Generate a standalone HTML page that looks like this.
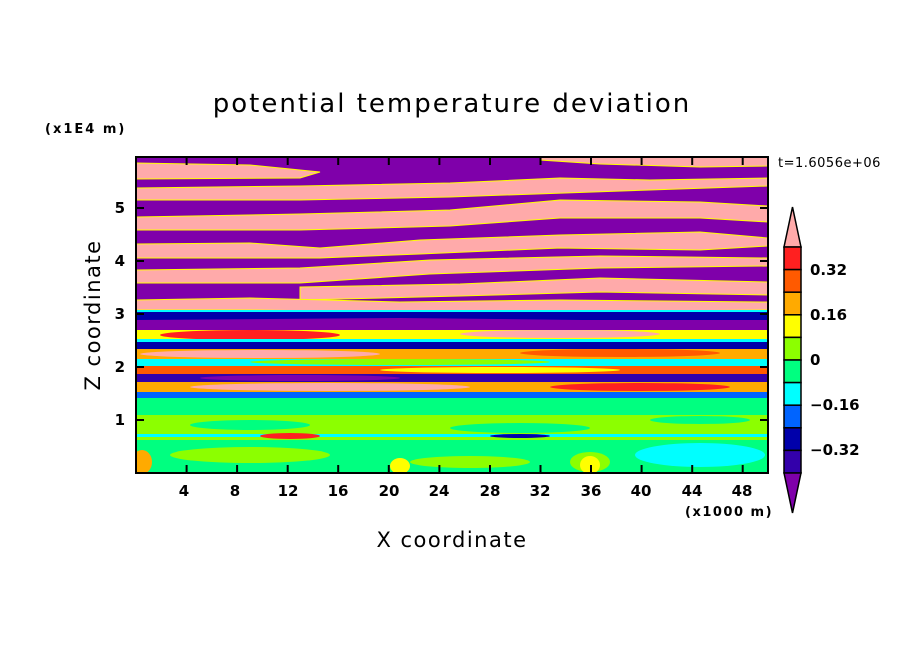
<!DOCTYPE html>
<html><head><meta charset="utf-8"><style>
body{margin:0;background:#fff}
svg{display:block}
text{font-family:"DejaVu Sans","Liberation Sans",sans-serif;fill:#000}
</style></head><body>
<svg width="904" height="654" viewBox="0 0 904 654" xmlns="http://www.w3.org/2000/svg">
<rect width="904" height="654" fill="#fff"/>
<defs><clipPath id="c"><rect x="136" y="157" width="632" height="316"/></clipPath></defs>
<g clip-path="url(#c)">
<rect x="136" y="157" width="632" height="316" fill="#7f00aa"/>
<g stroke="#ffff00" stroke-width="1" fill="#ffaaaa">
<polygon points="136,163 250,165 320,172 300,178 136,179"/>
<polygon points="540,157 768,157 768,166 700,167 600,164 540,160"/>
<polygon points="136,188 300,186 450,183 560,178 650,180 768,178 768,186 650,190 450,197 300,200 136,200"/>
<polygon points="136,217 300,214 450,210 560,200 700,202 768,206 768,222 700,218 560,218 450,226 300,230 136,230"/>
<polygon points="136,244 250,243 320,248 420,240 560,235 700,232 768,238 768,246 700,250 560,248 420,254 320,258 136,258"/>
<polygon points="136,270 300,268 430,260 600,256 768,258 768,266 600,268 430,274 300,283 136,283"/>
<polygon points="300,287 460,284 600,278 768,282 768,295 600,292 460,296 300,300"/>
<polygon points="136,300 250,298 400,302 560,300 768,302 768,310 560,312 400,312 250,310 136,310"/>
</g>
<rect x="136" y="310" width="632" height="10" fill="#00ffff"/>
<rect x="136" y="312" width="632" height="8" fill="#0000aa"/>
<polygon points="136,320 400,318 768,322 768,330 400,330 136,330" fill="#7f00aa"/>
<rect x="136" y="330" width="632" height="12" fill="#ffff00"/>
<ellipse cx="250" cy="335" rx="90" ry="5" fill="#ff2020"/>
<ellipse cx="560" cy="334" rx="100" ry="4" fill="#ffaaaa"/>
<rect x="136" y="339" width="632" height="4" fill="#00ffff"/>
<rect x="136" y="342" width="632" height="7" fill="#0000aa"/>
<rect x="136" y="349" width="632" height="10" fill="#ffaa00"/>
<ellipse cx="260" cy="354" rx="120" ry="4" fill="#ffaaaa"/>
<ellipse cx="620" cy="353" rx="100" ry="4" fill="#ff5a00"/>
<rect x="136" y="359" width="632" height="7" fill="#00ffff"/>
<ellipse cx="400" cy="362" rx="150" ry="3" fill="#8cff00"/>
<rect x="136" y="366" width="632" height="8" fill="#ff5a00"/>
<ellipse cx="500" cy="370" rx="120" ry="3" fill="#ffff00"/>
<rect x="136" y="374" width="632" height="8" fill="#3300aa"/>
<ellipse cx="300" cy="378" rx="100" ry="3" fill="#7f00aa"/>
<rect x="136" y="382" width="632" height="10" fill="#ffaa00"/>
<ellipse cx="330" cy="387" rx="140" ry="4" fill="#ffaaaa"/>
<ellipse cx="640" cy="387" rx="90" ry="4" fill="#ff2020"/>
<rect x="136" y="392" width="632" height="6" fill="#0064ff"/>
<rect x="136" y="398" width="632" height="17" fill="#00ff80"/>
<rect x="136" y="415" width="632" height="25" fill="#8cff00"/>
<ellipse cx="250" cy="425" rx="60" ry="5" fill="#00ff80"/>
<ellipse cx="520" cy="428" rx="70" ry="5" fill="#00ff80"/>
<ellipse cx="700" cy="420" rx="50" ry="4" fill="#00ff80"/>
<rect x="136" y="434" width="632" height="3" fill="#00ffff"/>
<ellipse cx="290" cy="436" rx="30" ry="3" fill="#ff2020"/>
<ellipse cx="520" cy="436" rx="30" ry="2" fill="#0000aa"/>
<rect x="136" y="440" width="632" height="33" fill="#00ff80"/>
<ellipse cx="250" cy="455" rx="80" ry="8" fill="#8cff00"/>
<ellipse cx="470" cy="462" rx="60" ry="6" fill="#8cff00"/>
<ellipse cx="700" cy="455" rx="65" ry="12" fill="#00ffff"/>
<ellipse cx="590" cy="462" rx="20" ry="10" fill="#8cff00"/>
<ellipse cx="590" cy="465" rx="10" ry="9" fill="#ffff00"/>
<ellipse cx="400" cy="466" rx="10" ry="8" fill="#ffff00"/>
<ellipse cx="142" cy="462" rx="10" ry="12" fill="#ffaa00"/>
</g>
<rect x="136" y="157" width="632" height="316" fill="none" stroke="#000" stroke-width="2"/>
<g stroke="#000" stroke-width="2">
<path d="M186.6,473v-8M237.1,473v-8M287.7,473v-8M338.2,473v-8M388.8,473v-8M439.4,473v-8M490,473v-8M540.5,473v-8M591,473v-8M641.6,473v-8M692.2,473v-8M742.7,473v-8"/>
<path d="M186.6,157v8M237.1,157v8M287.7,157v8M338.2,157v8M388.8,157v8M439.4,157v8M490,157v8M540.5,157v8M591,157v8M641.6,157v8M692.2,157v8M742.7,157v8"/>
<path d="M136,420h8M136,367h8M136,314h8M136,261h8M136,208h8M768,420h-8M768,367h-8M768,314h-8M768,261h-8M768,208h-8"/>
</g>
<g font-size="15" text-anchor="middle" font-weight="bold">
<text x="184" y="496">4</text><text x="235" y="496">8</text><text x="288" y="496">12</text><text x="338" y="496">16</text><text x="389" y="496">20</text><text x="439" y="496">24</text><text x="490" y="496">28</text><text x="540" y="496">32</text><text x="591" y="496">36</text><text x="641" y="496">40</text><text x="692" y="496">44</text><text x="742" y="496">48</text>
</g>
<g font-size="15" text-anchor="end" font-weight="bold">
<text x="125" y="425">1</text><text x="125" y="372">2</text><text x="125" y="319">3</text><text x="125" y="266">4</text><text x="125" y="213">5</text>
</g>
<text x="452" y="112" font-size="26" text-anchor="middle" letter-spacing="2">potential temperature deviation</text>
<text x="45" y="133" font-size="13" letter-spacing="2" font-weight="bold">(x1E4 m)</text>
<text x="685" y="516" font-size="13" letter-spacing="1.5" font-weight="bold">(x1000 m)</text>
<text x="452" y="547" font-size="21" text-anchor="middle" letter-spacing="1.5">X coordinate</text>
<text transform="translate(100,315) rotate(-90)" font-size="21" text-anchor="middle" letter-spacing="1.5">Z coordinate</text>
<text x="778" y="167" font-size="13" letter-spacing="0.5">t=1.6056e+06</text>
<g stroke="#000" stroke-width="1.5">
<polygon points="792.5,207 801,247 784,247" fill="#ffaaaa"/>
<rect x="784" y="247" width="17" height="22.6" fill="#ff2020"/>
<rect x="784" y="269.6" width="17" height="22.6" fill="#ff5a00"/>
<rect x="784" y="292.2" width="17" height="22.6" fill="#ffaa00"/>
<rect x="784" y="314.8" width="17" height="22.6" fill="#ffff00"/>
<rect x="784" y="337.4" width="17" height="22.6" fill="#8cff00"/>
<rect x="784" y="360" width="17" height="22.6" fill="#00ff80"/>
<rect x="784" y="382.6" width="17" height="22.6" fill="#00ffff"/>
<rect x="784" y="405.2" width="17" height="22.6" fill="#0064ff"/>
<rect x="784" y="427.8" width="17" height="22.6" fill="#0000aa"/>
<rect x="784" y="450.4" width="17" height="22.6" fill="#3300aa"/>
<polygon points="784,473 801,473 792.5,513" fill="#7f00aa"/>
</g>
<g font-size="15" font-weight="bold">
<text x="810" y="275">0.32</text><text x="810" y="320">0.16</text><text x="810" y="365">0</text><text x="810" y="410">−0.16</text><text x="810" y="455">−0.32</text>
</g>
</svg>
</body></html>
